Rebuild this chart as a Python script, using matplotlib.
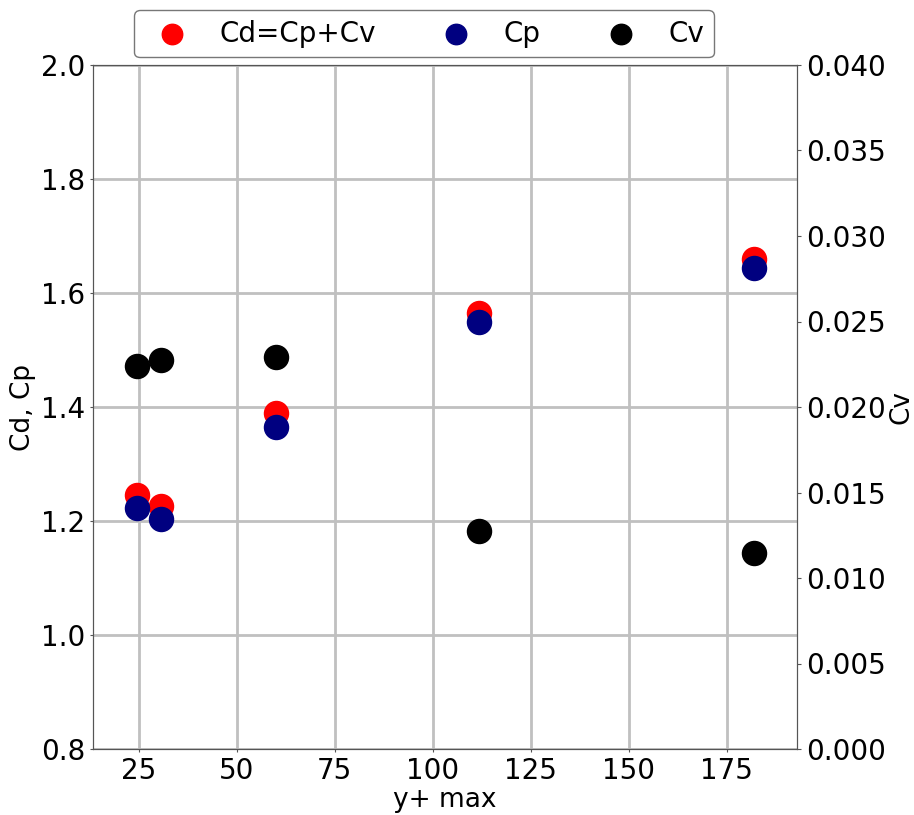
import matplotlib
matplotlib.use("Agg")
import matplotlib.pyplot as plt

yplus = [24.5, 30.6, 59.9, 111.7, 182.0]
cd = [1.246, 1.226, 1.389, 1.565, 1.660]
cp = [1.223, 1.204, 1.365, 1.549, 1.644]
cv = [0.0224, 0.02275, 0.0229, 0.01275, 0.01146]

plt.rcParams['font.size'] = 20
fig = plt.figure(figsize=(9.14, 8.15), dpi=100)
ax = fig.add_axes([93/914, 66/815, 704/914, 684/815])
ax2 = ax.twinx()

ax.set_axisbelow(True)
ax.grid(True, color='#c0c0c0', linewidth=2)
h1 = ax.scatter(yplus, cd, s=300, color='red', label='Cd=Cp+Cv', zorder=3)
h2 = ax.scatter(yplus, cp, s=300, color='navy', label='Cp', zorder=3)
h3 = ax2.scatter(yplus, cv, s=300, color='black', label='Cv', zorder=3)

ax.set_xlim(13.3, 192.9)
ax.set_ylim(0.8, 2.0)
ax2.set_ylim(0.0, 0.04)
ax.set_xticks([25, 50, 75, 100, 125, 150, 175])
ax.set_yticks([0.8, 1.0, 1.2, 1.4, 1.6, 1.8, 2.0])
ax2.set_yticks([0.0, 0.005, 0.01, 0.015, 0.02, 0.025, 0.03, 0.035, 0.04])
ax2.set_yticklabels(['0.000', '0.005', '0.010', '0.015', '0.020', '0.025', '0.030', '0.035', '0.040'])
ax.set_xlabel('y+ max', fontsize=19, labelpad=2)
ax.set_ylabel('Cd, Cp', fontsize=19, labelpad=4)
ax2.set_ylabel('Cv', fontsize=19, labelpad=2)
ax.tick_params(axis='both', length=2, labelsize=20, color='#555555')
ax2.tick_params(axis='y', length=3, labelsize=20, color='#555555')
for a in (ax, ax2):
    for sp in a.spines.values():
        sp.set_color('#555555')

fig.legend(handles=[h1, h2, h3], loc='upper center', bbox_to_anchor=(424/914, 1 - 10/815),
           ncol=3, fontsize=20, frameon=True, edgecolor='#555555', columnspacing=1.9,
           handletextpad=0.7, borderpad=0.35, borderaxespad=0, markerscale=0.85)
fig.savefig('out.png', dpi=100)
